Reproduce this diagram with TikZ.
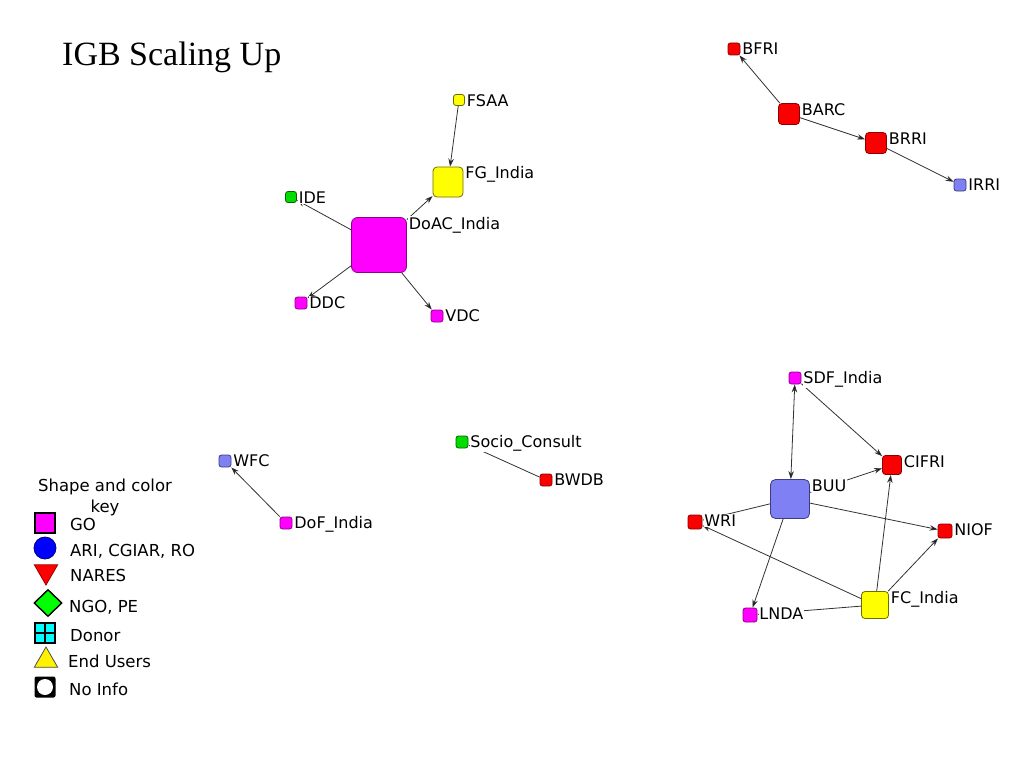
\documentclass[tikz,border=0pt]{standalone}
\usepackage{fontspec}
\setmainfont{DejaVu Sans}
\newfontfamily\titlefont{Liberation Serif}
\usetikzlibrary{arrows.meta,calc,shapes.geometric}

\definecolor{goMag}{RGB}{255,0,255}
\definecolor{goMagD}{RGB}{140,0,140}
\definecolor{naRed}{RGB}{250,0,0}
\definecolor{naRedD}{RGB}{140,0,0}
\definecolor{euYel}{RGB}{255,255,0}
\definecolor{euYelD}{RGB}{110,110,0}
\definecolor{ngGrn}{RGB}{0,220,0}
\definecolor{ngGrnD}{RGB}{0,100,0}
\definecolor{riBlu}{RGB}{128,128,245}
\definecolor{riBluD}{RGB}{60,60,130}
\definecolor{linkGray}{RGB}{50,50,50}
\definecolor{keyCyan}{RGB}{0,255,255}
\definecolor{keyGrn}{RGB}{0,255,0}

\newcommand{\nlabel}[2]{\node[lbl] (#1-t) at ($(#1.north east)+(1,12)$) {#2};}

\tikzset{
  nd/.style={draw, inner sep=0pt, minimum size=#1pt, rounded corners=2.5pt, line width=0.8pt},
  GO/.style={nd=#1, fill=goMag, draw=goMagD},
  NA/.style={nd=#1, fill=naRed, draw=naRedD},
  EU/.style={nd=#1, fill=euYel, draw=euYelD},
  NG/.style={nd=#1, fill=ngGrn, draw=ngGrnD},
  RI/.style={nd=#1, fill=riBlu, draw=riBluD},
  lbl/.style={anchor=base west, fill=white, inner sep=0.8pt, font=\fontsize{16}{19}\selectfont},
  keytxt/.style={anchor=base west, inner sep=0pt, font=\fontsize{16.5}{21}\selectfont},
  link/.style={draw=linkGray, line width=0.8pt, -{Stealth[length=8pt,width=5.5pt,fill=black]}},
  link2/.style={link, {Stealth[length=8pt,width=5.5pt,fill=black]}-{Stealth[length=8pt,width=5.5pt,fill=black]}},
}

\begin{document}
\begin{tikzpicture}[x=1pt, y=-1pt]

  \useasboundingbox (0,0) rectangle (1024,768);

  \node[anchor=base west, inner sep=0pt, font=\titlefont\fontsize{34}{40}\selectfont] (title) at (62,65) {IGB Scaling Up};

  % India cluster
  \node[EU=11] (FSAA) at (459,100) {};
  \node[EU=30, rounded corners=4pt] (FGIndia) at (448,182) {};
  \node[NG=11] (IDE) at (291,197) {};
  \node[GO=55, rounded corners=6pt] (DoAC) at (379,245) {};
  \node[GO=12] (DDC) at (301,303) {};
  \node[GO=12] (VDC) at (437,316) {};

  % Bangladesh cluster
  \node[NA=12] (BFRI) at (734,49) {};
  \node[NA=21, rounded corners=3.5pt] (BARC) at (789,114) {};
  \node[NA=21, rounded corners=3.5pt] (BRRI) at (876,143) {};
  \node[RI=12] (IRRI) at (960,185) {};

  % fisheries cluster
  \node[GO=12] (SDF) at (795,378) {};
  \node[NA=19, rounded corners=3pt] (CIFRI) at (892,465) {};
  \node[RI=39, rounded corners=5pt] (BUU) at (790,499) {};
  \node[NA=14] (WRI) at (695,522) {};
  \node[NA=14] (NIOF) at (945,531) {};
  \node[EU=27, rounded corners=3.5pt] (FCIndia) at (875,605) {};
  \node[GO=14] (LNDA) at (750,615) {};

  % pairs
  \node[RI=12] (WFC) at (225,461) {};
  \node[GO=12] (DoF) at (286,523) {};
  \node[NG=12] (Socio) at (462,442) {};
  \node[NA=12] (BWDB) at (546,480) {};

  \draw[link] (FSAA) -- (FGIndia);
  \draw[link] (DoAC) -- (FGIndia);
  \draw[link] (DoAC) -- (IDE);
  \draw[link] (DoAC) -- (DDC);
  \draw[link] (DoAC) -- (VDC);

  \draw[link] (BARC) -- (BFRI);
  \draw[link] (BARC) -- (BRRI);
  \draw[link] (BRRI) -- (IRRI);

  \draw[link2] (SDF) -- (BUU);
  \draw[link] (SDF) -- (CIFRI);
  \draw[link] (BUU) -- (CIFRI);
  \draw[link] (BUU) -- (NIOF);
  \draw[link] (BUU) -- (LNDA);
  \draw[link] (BUU) -- (WRI);
  \draw[link] (FCIndia) -- (CIFRI);
  \draw[link] (FCIndia) -- (NIOF);
  \draw[link] (FCIndia) -- (WRI);
  \draw[link] (FCIndia) -- (LNDA);

  \draw[link] (DoF) -- (WFC);
  \draw[link] (BWDB) -- (Socio);

  \nlabel{FSAA}{FSAA}
  \nlabel{FGIndia}{FG\_India}
  \nlabel{IDE}{IDE}
  \nlabel{DoAC}{DoAC\_India}
  \nlabel{DDC}{DDC}
  \nlabel{VDC}{VDC}
  \nlabel{BFRI}{BFRI}
  \nlabel{BARC}{BARC}
  \nlabel{BRRI}{BRRI}
  \nlabel{IRRI}{IRRI}
  \nlabel{SDF}{SDF\_India}
  \nlabel{CIFRI}{CIFRI}
  \nlabel{BUU}{BUU}
  \nlabel{WRI}{WRI}
  \nlabel{NIOF}{NIOF}
  \nlabel{FCIndia}{FC\_India}
  \nlabel{LNDA}{LNDA}
  \nlabel{WFC}{WFC}
  \nlabel{DoF}{DoF\_India}
  \nlabel{Socio}{Socio\_Consult}
  \nlabel{BWDB}{BWDB}

  % key
  \node[align=center, inner sep=0pt, font=\fontsize{16.5}{21}\selectfont] (keyhead) at (105,497) {Shape and color\\key};

  \node[draw=black, line width=1.4pt, fill=goMag, minimum size=20pt, inner sep=0pt] (kGO) at (45,523) {};
  \node[circle, draw=blue!50!black, line width=0.8pt, fill=blue, minimum size=22pt, inner sep=0pt] (kARI) at (45,548) {};
  \node[regular polygon, regular polygon sides=3, shape border rotate=180, fill=red, draw=red!60!black, line width=0.8pt, minimum size=27pt, inner sep=0pt] (kNA) at (46,571.5) {};
  \node[diamond, draw=black, line width=1.4pt, fill=keyGrn, minimum width=28pt, minimum height=27pt, inner sep=0pt] (kNG) at (48,603) {};
  \node[draw=black, line width=1.6pt, fill=keyCyan, minimum size=20pt, inner sep=0pt] (kDN) at (45,633) {};
  \draw[line width=1.2pt] (kDN.north) -- (kDN.south) (kDN.west) -- (kDN.east);
  \node[regular polygon, regular polygon sides=3, fill=yellow, draw=black!70, line width=0.8pt, minimum size=27pt, inner sep=0pt] (kEU) at (46,660.5) {};
  \node[fill=black, minimum size=21pt, inner sep=0pt, rounded corners=2pt] (kNI) at (45,687) {};
  \node[circle, fill=white, minimum size=16pt, inner sep=0pt] (kNIc) at (kNI) {};

  \node[keytxt] (kGO-t) at (70,530) {GO};
  \node[keytxt] (kARI-t) at (70,556) {ARI, CGIAR, RO};
  \node[keytxt] (kNA-t) at (70,581) {NARES};
  \node[keytxt] (kNG-t) at (69,612) {NGO, PE};
  \node[keytxt] (kDN-t) at (70,641) {Donor};
  \node[keytxt] (kEU-t) at (68,667) {End Users};
  \node[keytxt] (kNI-t) at (69,695) {No Info};

\end{tikzpicture}
\end{document}
